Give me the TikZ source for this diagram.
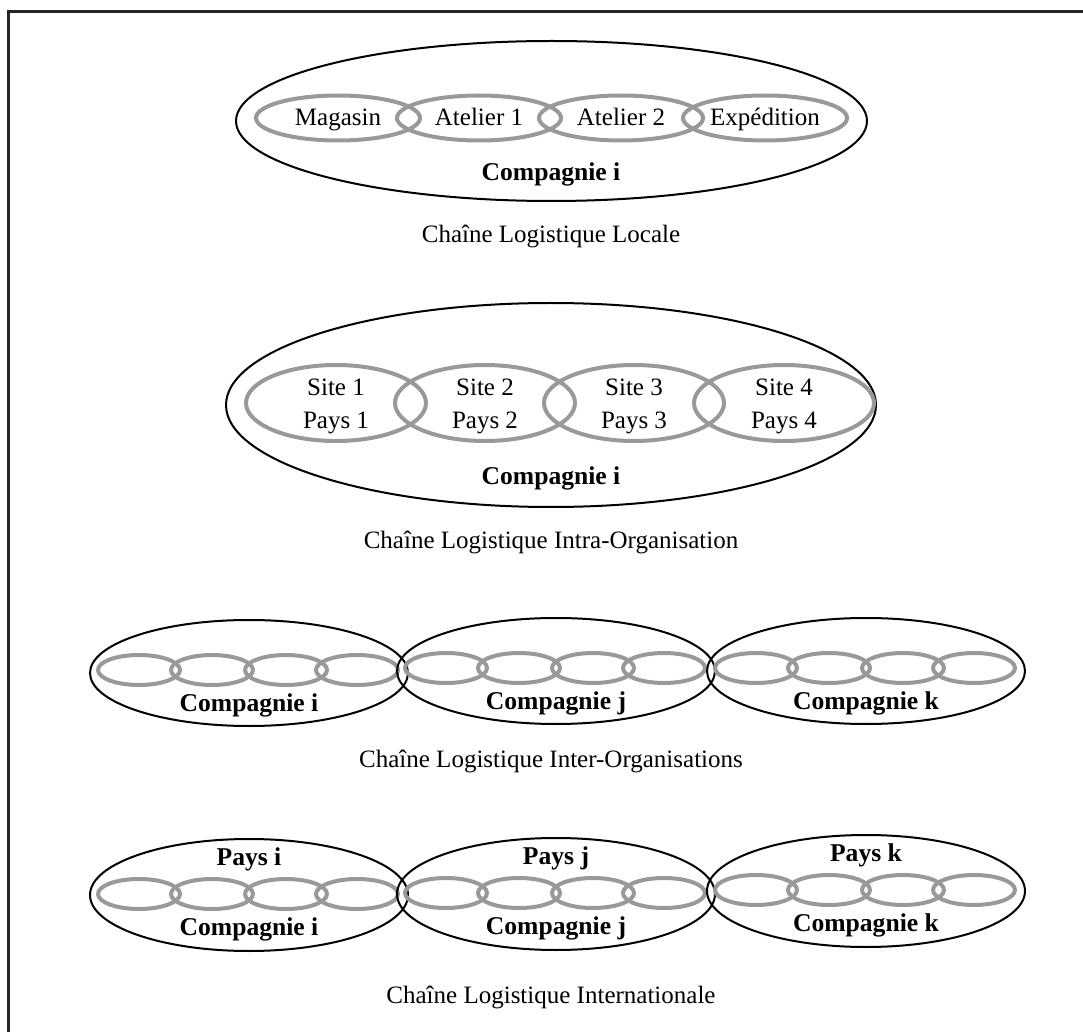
\documentclass[tikz,border=0pt]{standalone}
\usepackage{fontspec}
\setmainfont{Liberation Serif}
\usetikzlibrary{shapes.geometric}
\tikzset{
  outer/.style={draw=black, line width=1pt, shape=ellipse, inner sep=0pt},
  inner/.style={draw=black!40, line width=2pt, shape=ellipse, inner sep=0pt},
  lbl/.style={font=\fontsize{12.5}{16.5}\selectfont, align=center, inner sep=0pt},
  blbl/.style={font=\fontsize{12.8}{15}\selectfont\bfseries, align=center, inner sep=0pt},
  frame/.style={draw=black!85, line width=1.3pt}
}
\begin{document}
\begin{tikzpicture}[x=0.5pt,y=-0.5pt]
\useasboundingbox (0,0) rectangle (1083,1032);
\coordinate (fa) at (8.5,1032);
\coordinate (fb) at (8.5,11.5);
\coordinate (fc) at (1083,11.5);
\draw[frame] (fa) -- (fb) -- (fc);

% Row 1
\node[outer, minimum width=315.5pt, minimum height=80pt] (o1) at (551.5,121) {};
\foreach \i/\x/\t in {1/338/Magasin,2/479/Atelier 1,3/621/Atelier 2,4/765/Expédition}{
  \node[inner, minimum width=82pt, minimum height=22.5pt] (a\i) at (\x,118) {};
  \node[lbl, anchor=base] (ta\i) at (\x,126) {\t};
}
\node[blbl] (c1) at (551,174) {Compagnie i};
\node[lbl] (t1) at (551,237) {Chaîne Logistique Locale};

% Row 2
\node[outer, minimum width=325pt, minimum height=102pt] (o2) at (551,405) {};
\foreach \i/\x in {1/336,2/485,3/634,4/784}{
  \node[inner, minimum width=90pt, minimum height=38pt] (b\i) at (\x,403) {};
  \node[lbl] (tb\i) at (\x,406) {Site \i\\Pays \i};
}
\node[blbl] (c2) at (551,478) {Compagnie i};
\node[lbl] (t2) at (551,542) {Chaîne Logistique Intra-Organisation};

% Row 3
\foreach \n/\cx/\cy/\l in {i/249/673/i,j/556/671/j,k/866/671/k}{
  \node[outer, minimum width=159pt, minimum height=53pt] (r3\n) at (\cx,\cy) {};
  \foreach \k/\dx in {1/-110,2/-37,3/37,4/108}{
    \node[inner, minimum width=41pt, minimum height=15pt] (r3\n\k) at (\cx+\dx,\cy-3) {};
  }
  \node[blbl] (r3c\n) at (\cx,\cy+32) {Compagnie \l};
}
\node[lbl] (t3) at (551,761) {Chaîne Logistique Inter-Organisations};

% Row 4
\foreach \n/\cx/\cy/\l in {i/249/895/i,j/556/894/j,k/866/891/k}{
  \node[outer, minimum width=159pt, minimum height=56pt] (r4\n) at (\cx,\cy) {};
  \foreach \k/\dx in {1/-110,2/-37,3/37,4/108}{
    \node[inner, minimum width=41pt, minimum height=15pt] (r4\n\k) at (\cx+\dx,\cy-1) {};
  }
  \node[blbl] (r4p\n) at (\cx,\cy-36) {Pays \l};
  \node[blbl] (r4c\n) at (\cx,\cy+34) {Compagnie \l};
}
\node[lbl] (t4) at (551,997) {Chaîne Logistique Internationale};
\end{tikzpicture}
\end{document}
